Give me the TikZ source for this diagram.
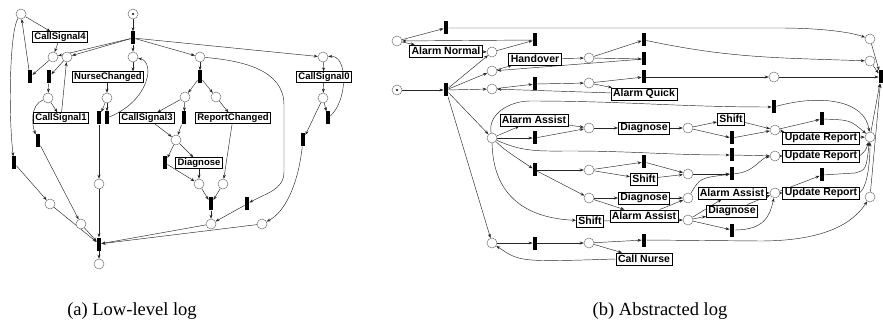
\documentclass[tikz,border=0pt]{standalone}
\usepackage{fontspec}
\setmainfont{Liberation Serif}
\setsansfont{Liberation Sans}
\usetikzlibrary{arrows.meta}
\pgfdeclarelayer{bg}
\pgfsetlayers{bg,main}
\tikzset{
  pl/.style={circle, draw=black!55, line width=0.5pt, fill=white, minimum size=10pt, inner sep=0pt},
  tr/.style={rectangle, fill=black, minimum width=4.5pt, minimum height=13pt, inner sep=0pt},
  lblA/.style={rectangle, draw=black, line width=0.8pt, fill=white, font=\fontsize{9.5}{10}\selectfont\sffamily\bfseries, inner xsep=2pt, inner ysep=0pt, minimum height=10.5pt},
  lblB/.style={rectangle, draw=black, line width=0.8pt, fill=white, font=\fontsize{10.5}{11}\selectfont\sffamily\bfseries, inner xsep=2pt, inner ysep=0pt, minimum height=12pt},
  arc/.style={-{Stealth[length=4pt,width=3pt]}, line width=0.45pt, draw=black!85},
  captxt/.style={font=\fontsize{18.5}{20}\selectfont}
}
\begin{document}
\begin{tikzpicture}[x=1pt,y=-1pt]
\useasboundingbox (0,0) rectangle (883,331);
% ---------------- (a) ----------------
\node[pl] (a0) at (133,14) {};
\fill (a0) circle (1.1pt);
\node[tr] (aT0) at (133,38) {};
\node[pl] (pa) at (21,14) {};
\node[lblA] (cs4) at (60,37) {CallSignal4};
\node[pl] (pb) at (53,57) {};
\node[pl] (pc) at (67,57) {};
\node[tr] (ta) at (30,77) {};
\node[tr] (tb) at (49,77) {};
\node[pl] (pd) at (48,98) {};
\node[lblA] (cs1) at (61,118) {CallSignal1};
\node[tr] (tc) at (38,141) {};
\node[tr] (tl) at (14,163) {};
\node[pl] (pl1) at (50,204) {};
\node[pl] (pl2) at (81,224) {};
\node[pl] (pe) at (133,57) {};
\node[lblA] (nc) at (108,77) {NurseChanged};
\node[pl] (pf) at (107,98) {};
\node[tr] (td) at (99,118) {};
\node[tr] (te) at (107,118) {};
\node[pl] (pg) at (99,184) {};
\node[tr] (aTE) at (99,244) {};
\node[pl] (aend) at (99,264) {};
\node[pl] (ph) at (200,57) {};
\node[tr] (tf) at (200,77) {};
\node[pl] (pi) at (185,97) {};
\node[pl] (pj) at (216,97) {};
\node[lblA] (cs3) at (147,118) {CallSignal3};
\node[tr] (tg) at (184,118) {};
\node[lblA] (rc) at (233,118) {ReportChanged};
\node[pl] (pk) at (176,140) {};
\node[tr] (th) at (165,163) {};
\node[lblA] (dg) at (199,163) {Diagnose};
\node[pl] (pm) at (199,184) {};
\node[pl] (pn) at (223,184) {};
\node[tr] (ti) at (211,204) {};
\node[pl] (po) at (211,224) {};
\node[tr] (tj) at (247,204) {};
\node[pl] (pp) at (262,224) {};
\node[pl] (pq) at (323,57) {};
\node[lblA] (cs0) at (324,77) {CallSignal0};
\node[pl] (pr) at (323,98) {};
\node[tr] (tk) at (328,118) {};
\node[tr] (tm) at (303,140) {};
% ---------------- (b) ----------------
\node[pl] (b1) at (397,41) {};
\node[tr] (bA) at (446,28) {};
\node[tr] (bB) at (535,40) {};
\node[lblB] (an) at (446,51) {Alarm Normal};
\node[pl] (b2) at (492,52) {};
\node[lblB] (ho) at (535,59) {Handover};
\node[pl] (b3) at (589,58) {};
\node[pl] (b4) at (492,71) {};
\node[pl] (b0) at (397,90) {};
\fill (b0) circle (1.1pt);
\node[tr] (bT0) at (446,90) {};
\node[pl] (b5) at (492,89) {};
\node[tr] (bC) at (535,84) {};
\node[pl] (b6) at (589,83) {};
\node[lblB] (aq) at (644,94) {Alarm Quick};
\node[tr] (bD) at (644,40) {};
\node[tr] (bE) at (644,59) {};
\node[tr] (bF) at (644,77) {};
\node[pl] (q1) at (870,39) {};
\node[pl] (q2) at (870,61) {};
\node[pl] (q3) at (774,77) {};
\node[tr] (bTF) at (881,77) {};
\node[tr] (bG) at (774,107) {};
\node[pl] (r1) at (492,138) {};
\node[lblB] (aa1) at (534,120) {Alarm Assist};
\node[tr] (t1) at (535,138) {};
\node[pl] (s1) at (589,128) {};
\node[lblB] (dg1) at (644,128) {Diagnose};
\node[pl] (s2) at (688,128) {};
\node[lblB] (sh1) at (731,119) {Shift};
\node[tr] (t2) at (732,138) {};
\node[pl] (s3) at (775,130) {};
\node[tr] (t3) at (822,119) {};
\node[lblB] (ur1) at (821,138) {Update Report};
\node[pl] (s4) at (870,137) {};
\node[tr] (t4) at (535,170) {};
\node[pl] (s5) at (589,170) {};
\node[tr] (t5) at (644,162) {};
\node[lblB] (sh2) at (644,179) {Shift};
\node[pl] (s6) at (688,174) {};
\node[tr] (t6) at (732,155) {};
\node[pl] (s7) at (775,156) {};
\node[lblB] (ur2) at (821,156) {Update Report};
\node[tr] (t7) at (732,174) {};
\node[pl] (s8) at (589,198) {};
\node[lblB] (dg2) at (644,198) {Diagnose};
\node[lblB] (aa2) at (644,216) {Alarm Assist};
\node[pl] (s9) at (688,198) {};
\node[lblB] (sh3) at (590,221) {Shift};
\node[pl] (s10) at (688,220) {};
\node[lblB] (aa3) at (732,193) {Alarm Assist};
\node[lblB] (dg3) at (732,211) {Diagnose};
\node[tr] (t8) at (732,230) {};
\node[pl] (s11) at (775,193) {};
\node[tr] (t9) at (822,175) {};
\node[lblB] (ur3) at (821,193) {Update Report};
\node[pl] (s12) at (870,197) {};
\node[pl] (r2) at (492,243) {};
\node[tr] (t10) at (535,243) {};
\node[pl] (s13) at (589,243) {};
\node[tr] (t11) at (644,240) {};
\node[lblB] (cn) at (644,259) {Call Nurse};
% captions
\node[captxt] (capa) at (132,311) {(a) Low-level log};
\node[captxt] (capb) at (660,311) {(b) Abstracted log};
\begin{pgfonlayer}{bg}
% (a) arcs
\draw[arc] (a0) -- (aT0);
\draw[arc] (aT0) -- (pb);
\draw[arc] (aT0) -- (pc);
\draw[arc] (aT0) -- (pe);
\draw[arc] (aT0) -- (ph);
\draw[arc] (aT0) -- (pq);
\draw[arc] (pa) -- (cs4);
\draw[arc] (cs4) -- (pb);
\draw[arc] (pb) -- (ta);
\draw[arc] (ta) -- (pa);
\draw[arc] (pc) -- (tb);
\draw[arc] (tb) -- (pd);
\draw[arc] (pd) -- (cs1);
\draw[arc] (cs1) -- (pc);
\draw[arc] (pd) .. controls (30,105) and (32,125) .. (tc);
\draw[arc] (tc) -- (pl2);
\draw[arc] (pa) .. controls (10,30) and (8,110) .. (tl);
\draw[arc] (tl) -- (pl1);
\draw[arc] (pl1) -- (aTE);
\draw[arc] (pl2) -- (aTE);
\draw[arc] (pe) -- (nc.north -| pe);
\draw[arc] (nc.south -| pf) -- (pf);
\draw[arc] (pf) -- (td);
\draw[arc] (pf) -- (te);
\draw[arc] (te) .. controls (150,100) and (155,62) .. (pe);
\draw[arc] (td) -- (pg);
\draw[arc] (pg) -- (aTE);
\draw[arc] (aTE) -- (aend);
\draw[arc] (ph) -- (tf);
\draw[arc] (tf) -- (pi);
\draw[arc] (tf) -- (pj);
\draw[arc] (pi) -- (cs3);
\draw[arc] (pi) -- (tg);
\draw[arc] (cs3) -- (pk);
\draw[arc] (tg) -- (pk);
\draw[arc] (pk) -- (th);
\draw[arc] (pk) -- (dg);
\draw[arc] (th) -- (pm);
\draw[arc] (dg) -- (pm);
\draw[arc] (pj) -- (rc);
\draw[arc] (rc) -- (pn);
\draw[arc] (pm) -- (ti);
\draw[arc] (pn) -- (ti);
\draw[arc] (ti) -- (po);
\draw[arc] (po) -- (aTE);
\draw[arc] (ph) to[out=-5,in=90] (284,105) -- (284,172) to[out=-90,in=30] (tj);
\draw[arc] (tj) -- (po);
\draw[arc] (pp) -- (aTE);
\draw[arc] (pq) -- (cs0);
\draw[arc] (cs0) -- (pr);
\draw[arc] (pr) -- (tk);
\draw[arc] (tk) .. controls (348,100) and (348,55) .. (pq);
\draw[arc] (pr) -- (tm);
\draw[arc] (tm) .. controls (298,185) and (285,212) .. (pp);
% (b) arcs
\draw[arc] (b0) -- (bT0);
\draw[arc] (bT0) -- (b2);
\draw[arc] (bT0) -- (b4);
\draw[arc] (bT0) -- (b5);
\draw[arc] (bT0) -- (r1);
\draw[arc] (bT0) -- (r2);
\draw[arc] (b1) -- (bA);
\draw[arc] (b1) -- (an);
\draw[arc] (an) -- (b2);
\draw[arc] (b2) -- (bB);
\draw[arc] (bB) -- (b1);
\draw[arc] (bA) -- (780,28) .. controls (820,28) and (850,32) .. (q1);
\draw[arc] (b4) -- (ho);
\draw[arc] (ho) -- (b3);
\draw[arc] (b3) -- (bD);
\draw[arc] (b3) -- (bE);
\draw[arc] (bE) -- (b4);
\draw[arc] (bD) to[out=-12,in=178] (q2);
\draw[arc] (b5) -- (bC);
\draw[arc] (bC) -- (b6);
\draw[arc] (b6) -- (bF);
\draw[arc] (b6) -- (aq);
\draw[arc] (aq) -- (b5);
\draw[arc] (bF) -- (q3);
\draw[arc] (q3) -- (bTF);
\draw[arc] (q1) -- (bTF);
\draw[arc] (q2) -- (bTF);
\draw[arc] (s4) -- (bTF);
\draw[arc] (s12) -- (bTF);
\draw[arc] (r1) to[out=100,in=180] (530,101) to[out=0,in=180] (bG);
\draw[arc] (bG) .. controls (820,94) and (865,100) .. (s4);
\draw[arc] (r1) -- (aa1);
\draw[arc] (r1) -- (t1);
\draw[arc] (aa1) -- (s1);
\draw[arc] (t1) -- (s1);
\draw[arc] (s1) -- (dg1);
\draw[arc] (dg1) -- (s2);
\draw[arc] (s2) -- (sh1);
\draw[arc] (s2) -- (t2);
\draw[arc] (sh1) -- (s3);
\draw[arc] (t2) -- (s3);
\draw[arc] (s3) -- (t3);
\draw[arc] (s3) -- (ur1);
\draw[arc] (t3) .. controls (850,120) .. (s4);
\draw[arc] (ur1) -- (s4);
\draw[arc] (r1) to[out=-25,in=180] (570,151) to[out=0,in=180] (t6);
\draw[arc] (t6) -- (s7);
\draw[arc] (s7) -- (ur2);
\draw[arc] (ur2.east) .. controls (866,150) .. (s4);
\draw[arc] (r1) .. controls (505,150) .. (t4);
\draw[arc] (t4) -- (s5);
\draw[arc] (t4) -- (s8);
\draw[arc] (s5) -- (t5);
\draw[arc] (s5) -- (sh2);
\draw[arc] (t5) -- (s6);
\draw[arc] (sh2) -- (s6);
\draw[arc] (s6) -- (t7);
\draw[arc] (s9) .. controls (700,178) .. (t7);
\draw[arc] (t7) .. controls (755,172) and (760,158) .. (s7);
\draw[arc] (s8) -- (dg2);
\draw[arc] (s8) -- (aa2);
\draw[arc] (dg2) -- (s9);
\draw[arc] (aa2) -- (s9);
\draw[arc] (r1) .. controls (493,195) and (525,218) .. (sh3);
\draw[arc] (sh3) -- (s10);
\draw[arc] (s10) -- (aa3);
\draw[arc] (s10) -- (dg3);
\draw[arc] (s10) -- (t8);
\draw[arc] (aa3) -- (s11);
\draw[arc] (dg3) -- (s11);
\draw[arc] (t8) .. controls (765,230) and (770,215) .. (s11);
\draw[arc] (s11) -- (t9);
\draw[arc] (s11) -- (ur3);
\draw[arc] (t9) -- (855,173) .. controls (866,170) .. (s4);
\draw[arc] (ur3.east) .. controls (868,186) and (870,160) .. (s4);
\draw[arc] (r2) -- (t10);
\draw[arc] (t10) -- (s13);
\draw[arc] (s13) -- (t11);
\draw[arc] (s13) -- (cn);
\draw[arc] (cn.west) .. controls (520,262) .. (r2);
\draw[arc] (t11) -- (760,241) .. controls (830,241) and (855,220) .. (s12);
\end{pgfonlayer}
\end{tikzpicture}
\end{document}
